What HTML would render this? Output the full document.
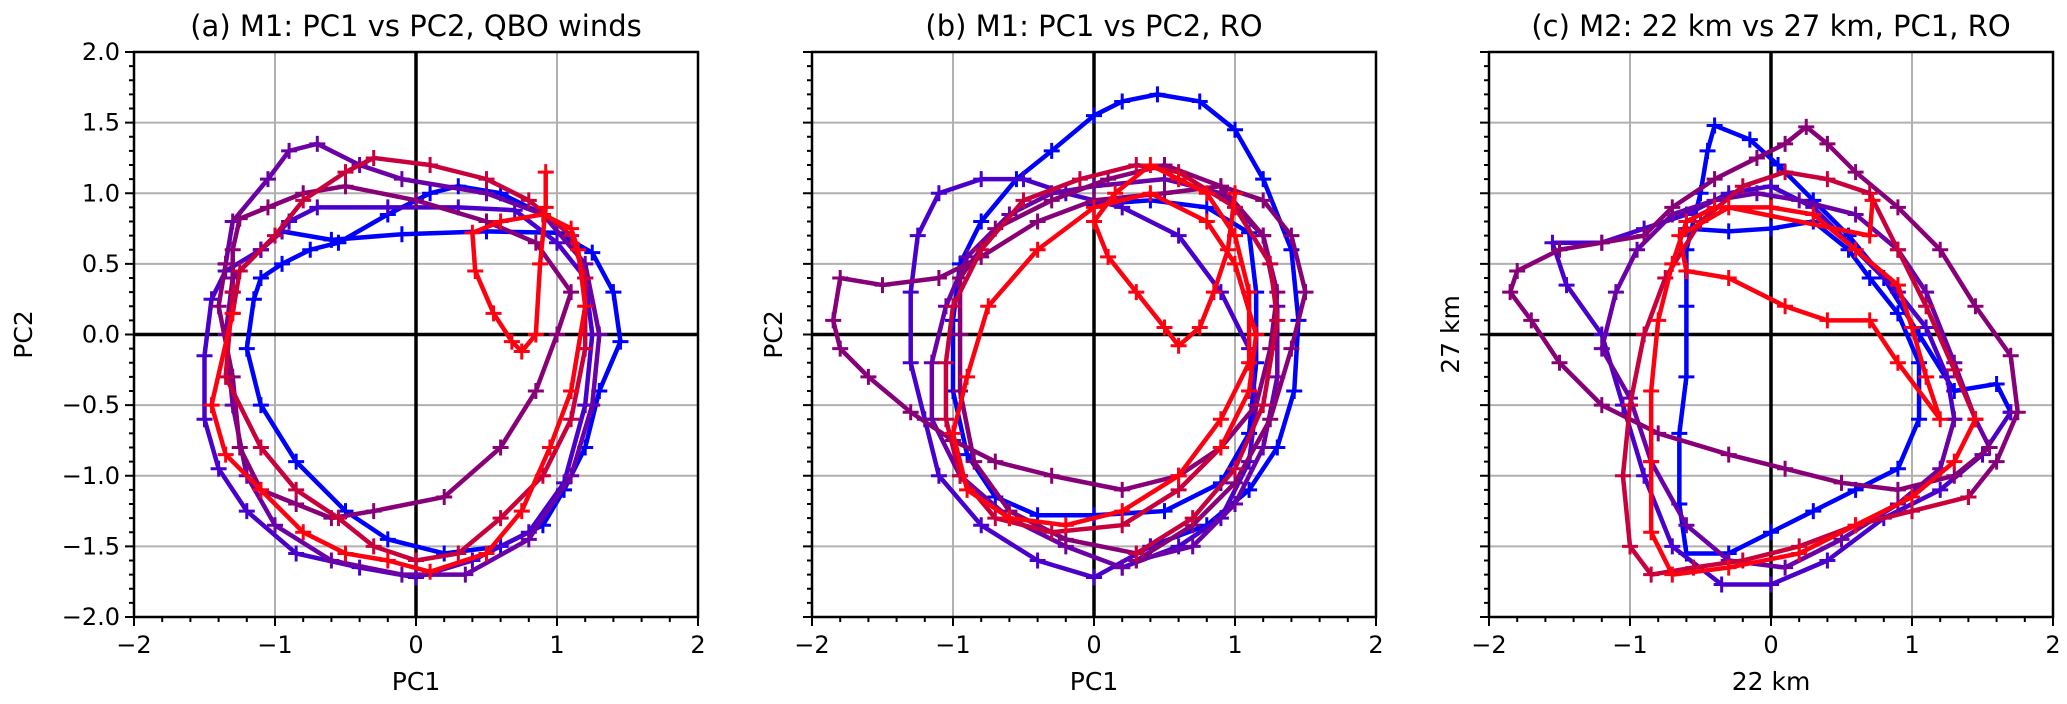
<!DOCTYPE html>
<html><head><meta charset="utf-8"><style>
html,body{margin:0;padding:0;background:#fff;}
svg{display:block;font-family:"DejaVu Sans","Liberation Sans",sans-serif;}
</style></head><body>
<svg id="chart" width="2067" height="704" viewBox="0 0 2067 704"></svg>
<script>
// ---------- data ----------
const xTickValues = [-2,-1,0,1,2];
const xTickLabels = ["\u22122","\u22121","0","1","2"];
const yTickValues = [-2,-1.5,-1,-0.5,0,0.5,1,1.5,2];
const yTickLabels = ["\u22122.0","\u22121.5","\u22121.0","\u22120.5","0.0","0.5","1.0","1.5","2.0"];
const segColors = ["#0000ff","#4a00cc","#6a00a6","#880078","#c8003c","#ff0010"];
const panelTitles = ["(a) M1: PC1 vs PC2, QBO winds","(b) M1: PC1 vs PC2, RO","(c) M2: 22 km vs 27 km, PC1, RO"];
const xLabels = ["PC1","PC1","22 km"];
const yLabels = ["PC2","PC2","27 km"];

// panel (a)
const a1 = [[0.9,0.85],[0.6,1.0],[0.3,1.05],[0.1,1.0],[-0.2,0.85],[-0.55,0.65],[-0.75,0.6],[-0.95,0.5],[-1.1,0.4],[-1.15,0.25],[-1.2,-0.1],[-1.1,-0.5],[-0.85,-0.9],[-0.5,-1.25],[-0.2,-1.45],[0.2,-1.55],[0.6,-1.5],[0.9,-1.35],[1.05,-1.1],[1.2,-0.8],[1.3,-0.4],[1.45,-0.05],[1.4,0.3],[1.25,0.58],[1.0,0.72],[0.5,0.73],[-0.1,0.71],[-0.6,0.67],[-0.95,0.73]];
const a2 = [[-0.95,0.73],[-1.1,0.6],[-1.35,0.45],[-1.45,0.25],[-1.5,-0.15],[-1.5,-0.6],[-1.4,-0.95],[-1.2,-1.25],[-0.85,-1.55],[-0.4,-1.65],[0,-1.72],[0.4,-1.6],[0.8,-1.4],[1.05,-1.05],[1.2,-0.5],[1.25,0],[1.2,0.4],[1.0,0.65],[0.7,0.88],[0.3,0.9],[-0.2,0.9],[-0.7,0.9],[-0.9,0.8],[-1.1,0.6]];
const a3 = [[-1.1,0.6],[-1.3,0.4],[-1.35,0],[-1.3,-0.5],[-1.2,-1.0],[-1.0,-1.35],[-0.6,-1.6],[-0.1,-1.7],[0.35,-1.7],[0.8,-1.45],[1.1,-1.0],[1.25,-0.5],[1.3,0],[1.2,0.5],[0.9,0.85],[0.5,1.0],[-0.1,1.1],[-0.4,1.2],[-0.7,1.35],[-0.9,1.3],[-1.05,1.1],[-1.3,0.8],[-1.35,0.5]];
const a4 = [[-1.35,0.5],[-1.4,0.2],[-1.3,-0.3],[-1.25,-0.8],[-1.1,-1.1],[-0.85,-1.2],[-0.6,-1.3],[-0.3,-1.25],[0.2,-1.15],[0.6,-0.8],[0.85,-0.4],[1.0,0],[1.1,0.3],[0.85,0.65],[0.5,0.8],[0.0,0.95],[-0.5,1.05],[-0.8,1.0],[-1.05,0.9],[-1.25,0.82],[-1.3,0.6],[-1.3,0.3]];
const a5 = [[-1.3,0.3],[-1.35,-0.3],[-1.1,-0.8],[-0.85,-1.1],[-0.55,-1.3],[-0.3,-1.5],[0,-1.6],[0.3,-1.55],[0.6,-1.3],[0.9,-1.0],[1.1,-0.6],[1.2,-0.1],[1.2,0.4],[1.1,0.7],[0.8,0.95],[0.5,1.1],[0.1,1.2],[-0.3,1.25],[-0.5,1.15],[-0.8,0.95],[-1.0,0.7],[-1.25,0.45],[-1.3,0.15]];
const a6 = [[-1.3,0.15],[-1.45,-0.5],[-1.35,-0.85],[-1.1,-1.1],[-0.8,-1.4],[-0.5,-1.55],[-0.2,-1.6],[0.1,-1.68],[0.5,-1.55],[0.75,-1.25],[0.95,-0.8],[1.1,-0.4],[1.2,0.2],[1.15,0.6],[1.1,0.75],[0.9,0.85],[0.6,0.8],[0.4,0.72],[0.42,0.45],[0.55,0.15],[0.68,-0.05],[0.75,-0.12],[0.85,0.0],[0.88,0.5],[0.92,0.9],[0.92,1.15]];

// panel (b)
const b1 = [[0.0,0.92],[0.4,0.95],[0.8,0.9],[1.1,0.72],[1.15,0.3],[1.15,-0.2],[1.1,-0.7],[0.9,-1.05],[0.5,-1.25],[0,-1.28],[-0.4,-1.28],[-0.7,-1.15],[-0.9,-0.85],[-1.0,-0.4],[-1.0,0.1],[-0.95,0.5],[-0.8,0.8],[-0.55,1.1],[-0.3,1.3],[0,1.55],[0.2,1.65],[0.45,1.7],[0.75,1.65],[1.0,1.45],[1.2,1.1],[1.4,0.6],[1.45,0.1],[1.42,-0.4],[1.3,-0.8],[1.1,-1.1],[0.8,-1.35],[0.4,-1.5]];
const b2 = [[0.4,-1.5],[0.0,-1.72],[-0.4,-1.6],[-0.8,-1.35],[-1.1,-1.0],[-1.2,-0.6],[-1.3,-0.2],[-1.3,0.3],[-1.25,0.7],[-1.1,1.0],[-0.8,1.1],[-0.5,1.1],[-0.2,1.0],[0.2,0.9],[0.6,0.7],[0.9,0.3],[1.1,-0.1],[1.15,-0.5],[1.1,-0.9],[0.9,-1.3],[0.6,-1.5],[0.2,-1.65]];
const b3 = [[0.2,-1.65],[-0.2,-1.5],[-0.6,-1.3],[-0.95,-1.0],[-1.15,-0.6],[-1.15,-0.2],[-1.05,0.2],[-0.9,0.55],[-0.6,0.85],[-0.3,1.0],[0,1.05],[0.5,1.1],[0.9,1.0],[1.2,0.7],[1.3,0.2],[1.3,-0.3],[1.2,-0.8],[1.0,-1.2],[0.7,-1.5],[0.3,-1.6]];
const b4 = [[0.3,-1.6],[0.7,-1.35],[1.0,-1.05],[1.25,-0.6],[1.4,-0.1],[1.5,0.3],[1.4,0.7],[1.2,0.95],[0.9,1.05],[0.5,1.0],[0.0,0.95],[-0.4,0.8],[-0.8,0.55],[-1.1,0.4],[-1.5,0.35],[-1.8,0.4],[-1.85,0.1],[-1.8,-0.1],[-1.6,-0.3],[-1.3,-0.55],[-1.0,-0.75],[-0.7,-0.9],[-0.3,-1.0],[0.2,-1.1],[0.6,-1.0],[0.9,-0.8],[1.15,-0.5],[1.25,-0.1],[1.3,0.3],[1.2,0.7],[0.9,1.05],[0.5,1.2],[0.1,1.1],[-0.3,0.95],[-0.7,0.75],[-0.95,0.4],[-0.95,0],[-0.95,-0.4],[-0.85,-0.9],[-0.6,-1.25],[-0.2,-1.45],[0.3,-1.55]];
const b5 = [[0.3,-1.55],[0.7,-1.3],[1.0,-0.95],[1.2,-0.5],[1.3,0.1],[1.25,0.5],[1.0,0.9],[0.6,1.15],[0.3,1.2],[-0.1,1.1],[-0.5,0.95],[-0.8,0.6],[-1.0,0.2],[-1.05,-0.2],[-1.05,-0.6],[-0.95,-1.0],[-0.7,-1.3],[-0.3,-1.4],[0.2,-1.35],[0.6,-1.1],[0.9,-0.8]];
const b6 = [[0.9,-0.8],[1.1,-0.4],[1.15,0],[1.0,0.5],[0.8,0.8],[0.4,1.0],[0.0,0.9],[-0.4,0.6],[-0.75,0.2],[-0.9,-0.3],[-1.0,-0.7],[-0.9,-1.1],[-0.6,-1.3],[-0.2,-1.35],[0.2,-1.25],[0.6,-1.0],[0.9,-0.6],[1.1,-0.2],[1.1,0.3],[1.0,0.7],[0.8,1.0],[0.6,1.1],[0.4,1.2],[0.15,1.0],[0.0,0.8],[0.1,0.55],[0.3,0.3],[0.5,0.05],[0.6,-0.08],[0.75,0.05],[0.85,0.3],[0.95,0.6],[1.0,1.0]];

// panel (c)
const c1 = [[-0.6,0.75],[-0.3,0.73],[0,0.75],[0.3,0.8],[0.55,0.6],[0.7,0.4],[0.9,0.15],[1.05,-0.2],[1.05,-0.6],[0.9,-0.95],[0.6,-1.1],[0.3,-1.25],[0,-1.4],[-0.3,-1.55],[-0.6,-1.55],[-0.65,-1.2],[-0.65,-0.7],[-0.6,-0.3],[-0.6,0.2],[-0.6,0.6],[-0.5,1.0],[-0.45,1.3],[-0.4,1.48],[-0.15,1.38],[0.05,1.2],[0.3,0.95],[0.55,0.7],[0.8,0.4],[1.05,0.0],[1.3,-0.4],[1.6,-0.35],[1.7,-0.55]];
const c2 = [[1.7,-0.55],[1.5,-0.85],[1.2,-1.1],[0.8,-1.3],[0.4,-1.6],[0,-1.77],[-0.35,-1.77],[-0.7,-1.5],[-0.9,-1.0],[-1.05,-0.5],[-1.2,0],[-1.45,0.35],[-1.55,0.65],[-1.2,0.65],[-0.9,0.75],[-0.6,0.85],[-0.3,1.0],[0,1.05],[0.3,0.9],[0.6,0.6],[0.9,0.3],[1.1,0.05],[1.25,-0.3],[1.3,-0.6]];
const c3 = [[1.3,-0.6],[1.2,-0.95],[0.9,-1.2],[0.5,-1.45],[0.1,-1.65],[-0.3,-1.6],[-0.6,-1.35],[-0.85,-0.9],[-1.0,-0.45],[-1.2,-0.1],[-1.1,0.3],[-0.95,0.6],[-0.7,0.85],[-0.4,0.95],[-0.1,1.0],[0.2,0.95],[0.6,0.85],[0.9,0.6],[1.1,0.3],[1.3,-0.2],[1.45,-0.6],[1.55,-0.8]];
const c4 = [[1.55,-0.8],[1.3,-1.0],[0.9,-1.1],[0.5,-1.05],[0.1,-0.95],[-0.3,-0.85],[-0.8,-0.7],[-1.2,-0.5],[-1.5,-0.2],[-1.7,0.1],[-1.85,0.3],[-1.8,0.45],[-1.5,0.6],[-1.2,0.65],[-0.9,0.7],[-0.7,0.9],[-0.4,1.1],[-0.1,1.25],[0.1,1.35],[0.25,1.47],[0.4,1.35],[0.6,1.15],[0.9,0.9],[1.2,0.6],[1.45,0.2],[1.7,-0.15],[1.75,-0.55],[1.6,-0.9],[1.4,-1.15]];
const c5 = [[1.4,-1.15],[1.0,-1.25],[0.6,-1.35],[0.2,-1.5],[-0.2,-1.6],[-0.55,-1.65],[-0.85,-1.7],[-1.0,-1.5],[-1.05,-1.0],[-1.0,-0.5],[-0.9,0],[-0.75,0.4],[-0.5,0.8],[-0.2,1.05],[0.1,1.15],[0.4,1.1],[0.7,1.0],[0.9,0.6],[1.1,0.2],[1.3,-0.25],[1.45,-0.6]];
const c6 = [[1.45,-0.6],[1.3,-0.9],[1.0,-1.15],[0.6,-1.35],[0.2,-1.55],[-0.3,-1.65],[-0.7,-1.7],[-0.85,-1.4],[-0.85,-0.9],[-0.85,-0.4],[-0.8,0.1],[-0.7,0.5],[-0.6,0.8],[-0.4,0.9],[0,0.9],[0.3,0.85],[0.6,0.6],[0.9,0.35],[1.0,0.05],[1.1,-0.3],[1.2,-0.6],[0.9,-0.2],[0.7,0.1],[0.4,0.1],[0.1,0.2],[-0.3,0.4],[-0.6,0.45],[-0.65,0.7],[-0.3,0.9],[0.7,0.7],[0.72,0.95]];

const panelSegments = [[a1,a2,a3,a4,a5,a6],[b1,b2,b3,b4,b5,b6],[c1,c2,c3,c4,c5,c6]];

// ---------- layout ----------
const NS = "http://www.w3.org/2000/svg";
const svg = document.getElementById("chart");
const panelLeft = [134, 812, 1489];
const plotW = 564, plotTop = 52, plotH = 565;
const dMin = -2, dMax = 2;

function mk(tag, attrs, parent) {
  const e = document.createElementNS(NS, tag);
  for (const k in attrs) e.setAttribute(k, attrs[k]);
  (parent || svg).appendChild(e);
  return e;
}

panelSegments.forEach((segs, p) => {
  const L = panelLeft[p];
  const xs = v => L + (v - dMin) / (dMax - dMin) * plotW;
  const ys = v => plotTop + (dMax - v) / (dMax - dMin) * plotH;
  const g = mk("g", {});
  
  

  const grid = mk("g", {stroke:"#b0b0b0","stroke-width":"2"}, g);
  
  
  xTickValues.forEach(v => mk("line", {x1:xs(v),x2:xs(v),y1:plotTop,y2:plotTop+plotH}, grid));
  yTickValues.forEach(v => mk("line", {x1:L,x2:L+plotW,y1:ys(v),y2:ys(v)}, grid));
  const zx = mk("line", {x1:xs(0),x2:xs(0),y1:plotTop,y2:plotTop+plotH,stroke:"#000","stroke-width":"3.5"}, g);
  
  
  const zy = mk("line", {x1:L,x2:L+plotW,y1:ys(0),y2:ys(0),stroke:"#000","stroke-width":"3.5"}, g);
  
  

  segs.forEach((seg, si) => {
    const col = segColors[si];
    const sg = mk("g", {}, g);
    
    
    mk("polyline", {points: seg.map(d => xs(d[0]) + "," + ys(d[1])).join(" "), fill:"none", stroke:col, "stroke-width":"4.5", "stroke-linejoin":"round"}, sg);
    seg.forEach(d => {
      const cx = xs(d[0]), cy = ys(d[1]);
      const m = mk("path", {d:`M${cx-8},${cy}H${cx+8}M${cx},${cy-8}V${cy+8}`, stroke:col, "stroke-width":"3"}, sg);
      
      
    });
  });

  const fr = mk("rect", {x:L,y:plotTop,width:plotW,height:plotH,fill:"none",stroke:"#000","stroke-width":"2.5"}, g);
  
  

  const tk = mk("g", {stroke:"#000","stroke-width":"2"}, g);
  
  
  for (let i = 0; i <= 40; i++) {
    const v = -2 + i * 0.1;
    const major = i % 5 === 0;
    mk("line", {x1:L, x2:L-(major?9:5), y1:ys(v), y2:ys(v)}, tk);
  }
  for (let i = 0; i <= 20; i++) {
    const v = -2 + i * 0.2;
    const major = i % 5 === 0;
    mk("line", {x1:xs(v), x2:xs(v), y1:plotTop+plotH, y2:plotTop+plotH+(major?9:5)}, tk);
  }
  xTickValues.forEach((v, i) => {
    const t = mk("text", {x:xs(v), y:plotTop+plotH+36, "text-anchor":"middle", "font-size":"24"}, g);
    t.textContent = xTickLabels[i];
    
    
  });
  if (p === 0) {
    yTickValues.forEach((v, i) => {
      const t = mk("text", {x:L-14, y:ys(v)+8, "text-anchor":"end", "font-size":"24"}, g);
      t.textContent = yTickLabels[i];
      
      
    });
  }
  const title = mk("text", {x:L+plotW/2, y:36, "text-anchor":"middle", "font-size":"29"}, g);
  title.textContent = panelTitles[p];
  
  
  const xl = mk("text", {x:L+plotW/2, y:690, "text-anchor":"middle", "font-size":"25"}, g);
  xl.textContent = xLabels[p];
  
  
  const ylx = p === 0 ? 32 : L - 30;
  const yl = mk("text", {x:ylx, y:plotTop+plotH/2, "text-anchor":"middle", "font-size":"25", transform:`rotate(-90 ${ylx} ${plotTop+plotH/2})`}, g);
  yl.textContent = yLabels[p];
  
  
});
</script>
</body></html>
